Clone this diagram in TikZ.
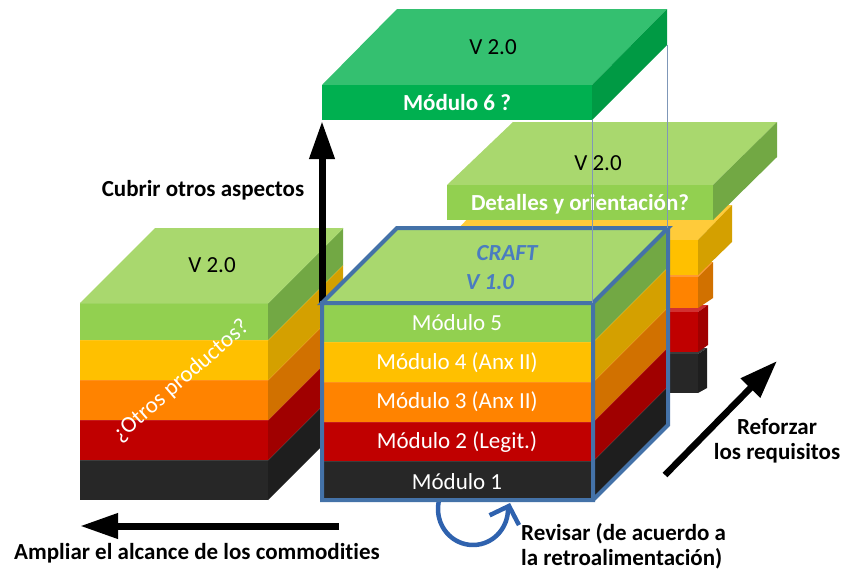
\documentclass[tikz,border=0pt]{standalone}
\usepackage{fontspec}
\setmainfont[Ligatures=NoCommon]{Carlito}
\usetikzlibrary{arrows.meta}
\definecolor{gtop}{HTML}{A9D86E}
\definecolor{gfront}{HTML}{92D050}
\definecolor{gside}{HTML}{72A844}
\definecolor{ytop}{HTML}{FFCB3A}
\definecolor{yfront}{HTML}{FFC000}
\definecolor{yside}{HTML}{D4A000}
\definecolor{otop}{HTML}{FF9A33}
\definecolor{ofront}{HTML}{FF8300}
\definecolor{oside}{HTML}{D17100}
\definecolor{rtop}{HTML}{D23030}
\definecolor{rfront}{HTML}{C00000}
\definecolor{rside}{HTML}{A00000}
\definecolor{ktop}{HTML}{3C3C3C}
\definecolor{kfront}{HTML}{272727}
\definecolor{kside}{HTML}{1E1E1E}
\definecolor{mtop}{HTML}{34C070}
\definecolor{mfront}{HTML}{00B050}
\definecolor{mside}{HTML}{009A44}
\definecolor{outl}{HTML}{4472A8}
\definecolor{crafttxt}{HTML}{4A7CC0}
\definecolor{revblue}{HTML}{2F62AE}
\definecolor{thinln}{HTML}{7F97B8}
\newcommand{\stacklayer}[6]{%
  \fill[#5] (#1,#3) rectangle (#2,#4);
  \fill[#6] (#2,#3) -- ++(75,-75) -- ++(0,{#4-#3}) -- (#2,#4) -- cycle;
  \draw[#5!70!white, line width=0.8pt] (#1,#3) -- (#2,#3) -- ++(75,-75);
}
\tikzset{
  txt/.style={font=\fontsize{23}{26}\selectfont, inner sep=0pt},
  btxt/.style={font=\fontsize{23}{26}\selectfont\bfseries, inner sep=0pt},
  modlbl/.style={txt, text=white},
  bigarrow/.style={line width=7pt, -{Triangle[length=38pt,width=24pt]}},
  thinline/.style={thinln, line width=1pt},
}
\begin{document}
\begin{tikzpicture}[x=1pt,y=-1pt]
\useasboundingbox (0,0) rectangle (846,571);

% ---------- back-right stack ----------
\fill[ktop] (447,354)--(698,354)--(707,348)--(456,348)--cycle;
\fill[kfront] (447,354) rectangle (698,393);
\fill[kside] (698,354)--(707,348)--(707,388)--(698,393)--cycle;
\fill[rtop] (447,312)--(698,312)--(708,305)--(457,305)--cycle;
\fill[rfront] (447,312) rectangle (698,352);
\fill[rside] (698,312)--(708,305)--(708,345)--(698,352)--cycle;
\fill[otop] (447,277)--(698,277)--(713,262)--(462,262)--cycle;
\fill[ofront] (447,277) rectangle (698,308);
\fill[oside] (698,277)--(713,262)--(713,298)--(698,308)--cycle;
\fill[ytop] (447,240)--(698,240)--(732,205)--(481,205)--cycle;
\fill[yfront] (447,240) rectangle (698,275);
\fill[yside] (698,240)--(732,205)--(732,242)--(698,275)--cycle;
\fill[gtop] (447,185)--(713,185)--(777,122)--(513,122)--cycle;
\fill[gfront] (447,185) rectangle (713,220);
\fill[gside] (713,185)--(777,122)--(777,157)--(713,220)--cycle;
\node[txt] (brV) at (598,163) {V 2.0};
\node[btxt, text=white] (brDet) at (580,204) {Detalles y orientación?};

% ---------- module 6 slab ----------
\fill[mtop] (322,85)--(592,85)--(667,9)--(397,9)--cycle;
\fill[mfront] (322,85) rectangle (592,120);
\fill[mside] (592,85)--(667,9)--(667,45)--(592,120)--cycle;
\node[txt] (m6V) at (493,47) {V 2.0};
\node[btxt, text=white] (m6L) at (457,103) {Módulo 6 ?};

% ---------- left stack ----------
\stacklayer{80}{268}{460}{500}{kfront}{kside}
\stacklayer{80}{268}{420}{460}{rfront}{rside}
\stacklayer{80}{268}{380}{420}{ofront}{oside}
\stacklayer{80}{268}{340}{380}{yfront}{yside}
\stacklayer{80}{268}{303}{340}{gfront}{gside}
\fill[gtop] (80,303)--(268,303)--(343,228)--(155,228)--cycle;
\node[txt] (lsV) at (212,265) {V 2.0};
\node[txt, text=white, rotate=41] (lsO) at (181,381) {¿Otros productos?};

% ---------- Cubrir arrow ----------
\coordinate (cubS) at (322,303);
\coordinate (cubE) at (322,121);
\draw[bigarrow] (cubS) -- (cubE);
\node[btxt] (cubL) at (203,190) {Cubrir otros aspectos};

% ---------- revisar loop ----------
\coordinate (revE) at (510,503);
\draw[revblue, line width=4.5pt, -{Straight Barb[length=15pt,width=31pt]}]
  plot[domain=200:0, samples=40, smooth] ({473+35*cos(\x)},{509+36*sin(\x)}) -- (revE);

% ---------- center stack ----------
\stacklayer{322}{593}{461}{500}{kfront}{kside}
\stacklayer{322}{593}{422}{461}{rfront}{rside}
\stacklayer{322}{593}{382}{422}{ofront}{oside}
\stacklayer{322}{593}{342}{382}{yfront}{yside}
\stacklayer{322}{593}{303}{342}{gfront}{gside}
\fill[gtop] (322,303)--(593,303)--(668,228)--(397,228)--cycle;
\draw[outl, line width=4pt, line join=miter]
  (322,303)--(397,228)--(668,228)--(593,303)--cycle
  (322,303) rectangle (593,500)
  (668,228)--(668,425)--(593,500);
\node[btxt, font=\fontsize{23}{26}\selectfont\bfseries\itshape, text=crafttxt] (craft) at (507,253) {CRAFT};
\node[btxt, font=\fontsize{23}{26}\selectfont\bfseries\itshape, text=crafttxt] (v10) at (490,282) {V 1.0};
\node[modlbl] (m5) at (457,323) {Módulo 5};
\node[modlbl] (m4) at (457,363) {Módulo 4 (Anx II)};
\node[modlbl] (m3) at (457,402) {Módulo 3 (Anx II)};
\node[modlbl] (m2) at (457,442) {Módulo 2 (Legit.)};
\node[modlbl] (m1) at (457,482) {Módulo 1};

% ---------- thin projection lines ----------
\coordinate (pA1) at (592,120); \coordinate (pA2) at (592,303);
\coordinate (pB1) at (667,45);  \coordinate (pB2) at (667,228);
\draw[thinline] (pA1) -- (pA2);
\draw[thinline] (pB1) -- (pB2);

% ---------- ampliar arrow ----------
\coordinate (ampS) at (339,526);
\coordinate (ampE) at (80,526);
\draw[bigarrow] (ampS) -- (ampE);
\node[btxt] (ampL) at (197,553) {Ampliar el alcance de los commodities};

% ---------- reforzar arrow ----------
\coordinate (refS) at (665,475);
\coordinate (refE) at (777,361);
\draw[line width=6.5pt, -{Triangle[length=38pt,width=26pt]}] (refS) -- (refE);
\node[btxt, align=center] (refL) at (777,441) {Reforzar\\[-1pt]los requisitos};

% ---------- revisar label ----------
\node[btxt, align=left, anchor=west] (revL) at (521,546) {Revisar (de acuerdo a\\[-1pt]la retroalimentación)};
\end{tikzpicture}
\end{document}
